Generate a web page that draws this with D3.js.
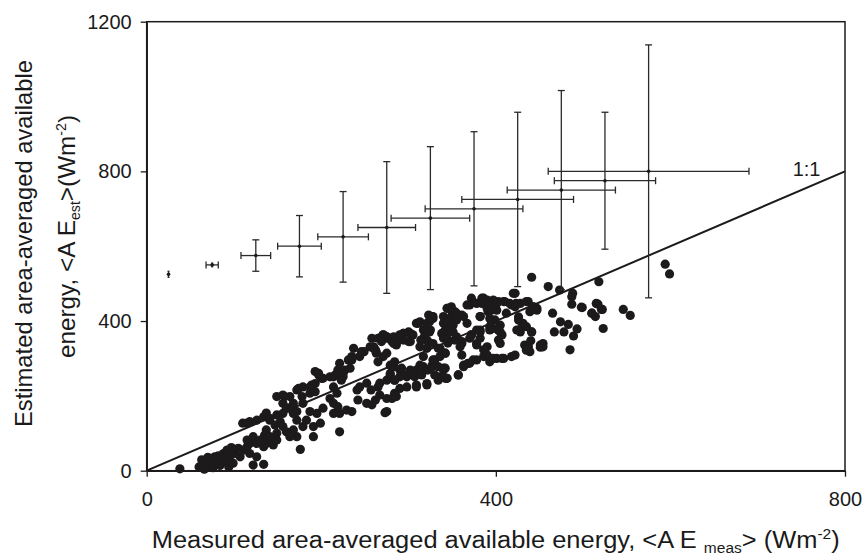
<!DOCTYPE html>
<html><head><meta charset="utf-8">
<script src="https://cdn.jsdelivr.net/npm/d3@7"></script>
<style>
body{margin:0;background:#fff}
svg{display:block}
text{font-family:"Liberation Sans",Arial,Helvetica,sans-serif;fill:#1a1a1a}
</style>
</head><body>
<svg id="chart" width="865" height="557"></svg>
<script>
// ---- data ----
const xTicks = [0, 400, 800];
const yTicks = [0, 400, 800, 1200];
const ratioLabel = "1:1";

// binned means with error bars
const binMeas    = [25, 75, 125, 175, 225, 275, 325, 375, 425, 475, 525, 575];
const binEst     = [525, 550, 575, 600, 625, 650, 675, 700, 725, 750, 775, 800];
const binMeasErr = [0, 7, 17, 25, 29, 33, 45, 56, 64, 62, 58, 115];
const binEstErr  = [8, 5, 42, 82, 121, 176, 191, 206, 233, 266, 183, 338];

// individual observations [measured, estimated]
const obsPairs = [
[38,5],[122,15],[134,17],[176,57],[191,91],
[63,29],[67,20],[71,11],[74,29],[78,37],[80,20],[86,29],[88,46],[92,55],[95,37],[99,20],[101,46],[105,60],[107,37],[111,55],
[60,10],[66,4],[72,18],[76,8],[84,14],[90,24],[94,10],[70,36],[82,40],[97,62],
[115,82],[115,64],[118,73],[122,91],[126,73],[130,82],[134,64],[137,73],[141,82],[145,69],[149,82],[118,46],[126,37],[135,95],
[115,127],[118,131],[126,135],[134,144],[141,135],[147,122],[153,131],[156,118],[160,104],[168,109],[172,91],[164,91],
[137,109],[149,100],[141,91],[110,127],[137,154],
[149,198],[156,202],[164,198],[172,216],[179,224],[187,224],[193,233],[187,207],[178,198],[168,180],[162,167],[156,153],[149,149],[141,140],
[179,180],[187,158],[195,153],[202,167],[183,135],[191,118],[199,127],[172,135],[179,118],[168,153],
[197,260],[202,247],[174,220],[189,229],[193,211],
[221,104],[273,155],
[221,287],[233,296],[219,269],[225,251],[214,251],
[237,327],[249,318],[244,305],[235,296],
[260,331],[263,314],[271,354],[275,358],[283,340],[286,336],[294,367],[302,367],
[311,394],[317,376],
[158,198],[156,180],[160,167],[168,167],[172,158],[200,247],[193,265],[197,256],
[210,251],[214,224],[218,207],[210,193],[214,180],[219,171],[214,153],[221,153],[229,162],[235,158],
[241,216],[244,224],[252,234],[257,216],[265,224],[267,234],[275,242],[279,260],[284,242],[290,251],[298,251],[305,260],[309,269],[317,278],[327,282],[330,296],[340,274],[336,251],[344,247],
[242,189],[252,180],[258,176],[262,189],[267,202],[275,193],[286,198],[284,207],[290,220],[298,224],[309,224],[321,229],
[275,158],[271,305],[265,291],[275,314],[279,282],[284,291],[292,274],
[246,318],[235,305],[260,327],[263,318],[231,296],[256,331],[262,323],[258,354],
[216,256],[227,269],[233,274],[225,260],[223,242],
[300,371],[294,367],[300,345],[286,340],[281,345],[275,354],[269,358],[265,354],[271,363],[288,349],
[309,394],[313,398],[323,416],[328,412],[327,412],[321,394],[325,376],[321,349],
[345,434],[351,421],[340,412],[347,394],[342,376],[351,371],[355,358],[343,358],[349,438],[353,425],
[281,193],[284,202],[309,229],[321,233],[334,242],[342,247],[357,256],[363,282],[370,287],[378,296],[386,305],[393,300],[401,300],[409,300],[418,305],[422,309],
[386,323],[390,331],[382,354],[378,340],[361,309],[361,340],[372,363],[382,376],[393,385],[405,371],
[433,336],[437,331],[439,318],[451,336],[454,331],
[424,376],[426,403],[431,394],[435,385],[441,371],
[422,438],[428,447],[435,452],[443,438],[447,434],[420,474],
[401,447],[409,452],[416,447],[397,434],[391,425],[382,412],[393,407],[399,403],[405,389],[403,376],[390,456],[384,461],[372,461],[370,443],[378,447],
[344,434],[349,429],[355,421],[361,416],[347,407],[342,403],[344,385],[347,371],[351,389],[355,403],[338,367],[340,354],[345,349],[328,407],[324,398],[321,385],[324,371],[318,358],[314,349],[322,345],[328,340],[334,327],[321,327],[313,331],[305,363],[302,345],[294,349],[290,363],[283,358],[275,358],[271,363],[269,345],
[290,269],[283,278],[279,256],[284,242],[296,256],[302,269],[307,251],[315,256],[322,269],[327,278],[334,278],[330,256],[340,269],[328,296],[336,305],[342,314],[317,305],[313,282],
[441,517],[460,492],[473,483],[518,505],[594,552],[599,526],[488,474],[487,465],[487,445],[499,436],[515,447],[522,431],[510,421],[514,412],[523,380],[546,431],[554,415],
[465,421],[474,398],[483,391],[467,371],[478,371],[489,360],[493,379],[485,323],[454,340],[451,330],[440,347],[437,331],[435,322],[441,371],[428,371],[426,376],[430,394],[426,411],
[437,452],[443,438],[447,429],[439,425],[422,474],[418,443],[423,447],[410,452],[403,452],[397,456],[391,452],[386,461],[384,447],[390,434],[395,429],[401,429],[412,421],
[382,412],[395,398],[397,380],[393,376],[403,376],[407,363],[403,349],[405,340],[367,443],[378,376],[382,371],[372,363],[370,354],[361,345],[359,331],[378,336],
[390,309],[397,300],[407,300],[393,291],[374,296],[368,287],[363,278],[342,274],[344,247],[357,256],[342,314],[336,327],[345,341],[353,349],[340,394],[367,394],[363,412],
[498,437],[510,421],[517,445],[521,431]
];

// ---- drawing ----
const svg = d3.select("#chart");
const x = d3.scaleLinear().domain([0, 800]).range([146.7, 845]);
const y = d3.scaleLinear().domain([0, 1200]).range([470.7, 21.7]);
const ink = "#1c1a1b";

// frame
svg.append("rect")
  .attr("x", x(0)).attr("y", y(1200))
  .attr("width", x(800) - x(0)).attr("height", y(0) - y(1200))
  .attr("fill", "none").attr("stroke", ink).attr("stroke-width", 1.5);

// axes
const fmt = d3.format("d");
const gx = svg.append("g").attr("transform", `translate(0,${y(0)})`)
  .call(d3.axisBottom(x).tickValues(xTicks).tickFormat(fmt).tickSize(6).tickSizeOuter(0).tickPadding(15));
const gy = svg.append("g").attr("transform", `translate(${x(0)},0)`)
  .call(d3.axisLeft(y).tickValues(yTicks).tickFormat(fmt).tickSize(6).tickSizeOuter(0).tickPadding(9));
[gx, gy].forEach(g => {
  g.select(".domain").attr("stroke", ink).attr("stroke-width", 1.5);
  g.selectAll(".tick line").attr("stroke", ink).attr("stroke-width", 1.3);
  g.selectAll(".tick text").attr("font-size", 20).attr("fill", ink)
   .style("font-family", '"Liberation Sans",Arial,sans-serif');
});

// scatter
svg.append("g").selectAll("circle").data(obsPairs).join("circle")
  .attr("cx", d => x(d[0])).attr("cy", d => y(d[1]))
  .attr("r", 4.6).attr("fill", ink);

// 1:1 line
svg.append("line")
  .attr("x1", x(0)).attr("y1", y(0)).attr("x2", x(800)).attr("y2", y(800))
  .attr("stroke", ink).attr("stroke-width", 2);
svg.append("text").attr("x", x(740)).attr("y", y(787))
  .attr("font-size", 20).text(ratioLabel);

// error bars
const eb = svg.append("g").attr("stroke", "#2a2a2a").attr("stroke-width", 1.3).attr("fill", "none");
const cap = 3.5;
binMeas.forEach((m, i) => {
  const cx = x(m), cy = y(binEst[i]);
  const ye = binEstErr[i], xe = binMeasErr[i];
  if (ye > 0) {
    eb.append("line").attr("x1", cx).attr("x2", cx).attr("y1", y(binEst[i] - ye)).attr("y2", y(binEst[i] + ye));
    [binEst[i] - ye, binEst[i] + ye].forEach(v =>
      eb.append("line").attr("x1", cx - (ye < 15 ? 1 : cap)).attr("x2", cx + (ye < 15 ? 1 : cap)).attr("y1", y(v)).attr("y2", y(v)));
  }
  if (xe > 0) {
    eb.append("line").attr("y1", cy).attr("y2", cy).attr("x1", x(m - xe)).attr("x2", x(m + xe));
    [m - xe, m + xe].forEach(v =>
      eb.append("line").attr("y1", cy - cap).attr("y2", cy + cap).attr("x1", x(v)).attr("x2", x(v)));
  }
});
svg.append("g").selectAll("circle").data(binMeas).join("circle")
  .attr("cx", (d) => x(d)).attr("cy", (d, i) => y(binEst[i]))
  .attr("r", 1.8).attr("fill", ink);

// x title
const xt = svg.append("text").attr("x", 151.7).attr("y", 548)
  .attr("font-size", 23).attr("textLength", 688).attr("lengthAdjust", "spacingAndGlyphs");
xt.append("tspan").text("Measured area-averaged available energy, <A E ");
xt.append("tspan").attr("font-size", 14).attr("dy", 5).text("meas");
xt.append("tspan").attr("dy", -5).text("> (Wm");
xt.append("tspan").attr("font-size", 14).attr("dy", -9).text("-2");
xt.append("tspan").attr("dy", 9).text(")");

// y title
svg.append("text").attr("transform", "translate(32,243.5) rotate(-90)")
  .attr("text-anchor", "middle").attr("font-size", 24)
  .attr("textLength", 367).attr("lengthAdjust", "spacingAndGlyphs")
  .text("Estimated area-averaged available");
const yt2 = svg.append("text").attr("transform", "translate(75,236.5) rotate(-90)")
  .attr("text-anchor", "middle").attr("font-size", 24)
  .attr("textLength", 243).attr("lengthAdjust", "spacingAndGlyphs");
yt2.append("tspan").text("energy, <A E");
yt2.append("tspan").attr("font-size", 14).attr("dy", 5).text("est");
yt2.append("tspan").attr("dy", -5).text(">(Wm");
yt2.append("tspan").attr("font-size", 14).attr("dy", -9).text("-2");
yt2.append("tspan").attr("dy", 9).text(")");
</script>
</body></html>
